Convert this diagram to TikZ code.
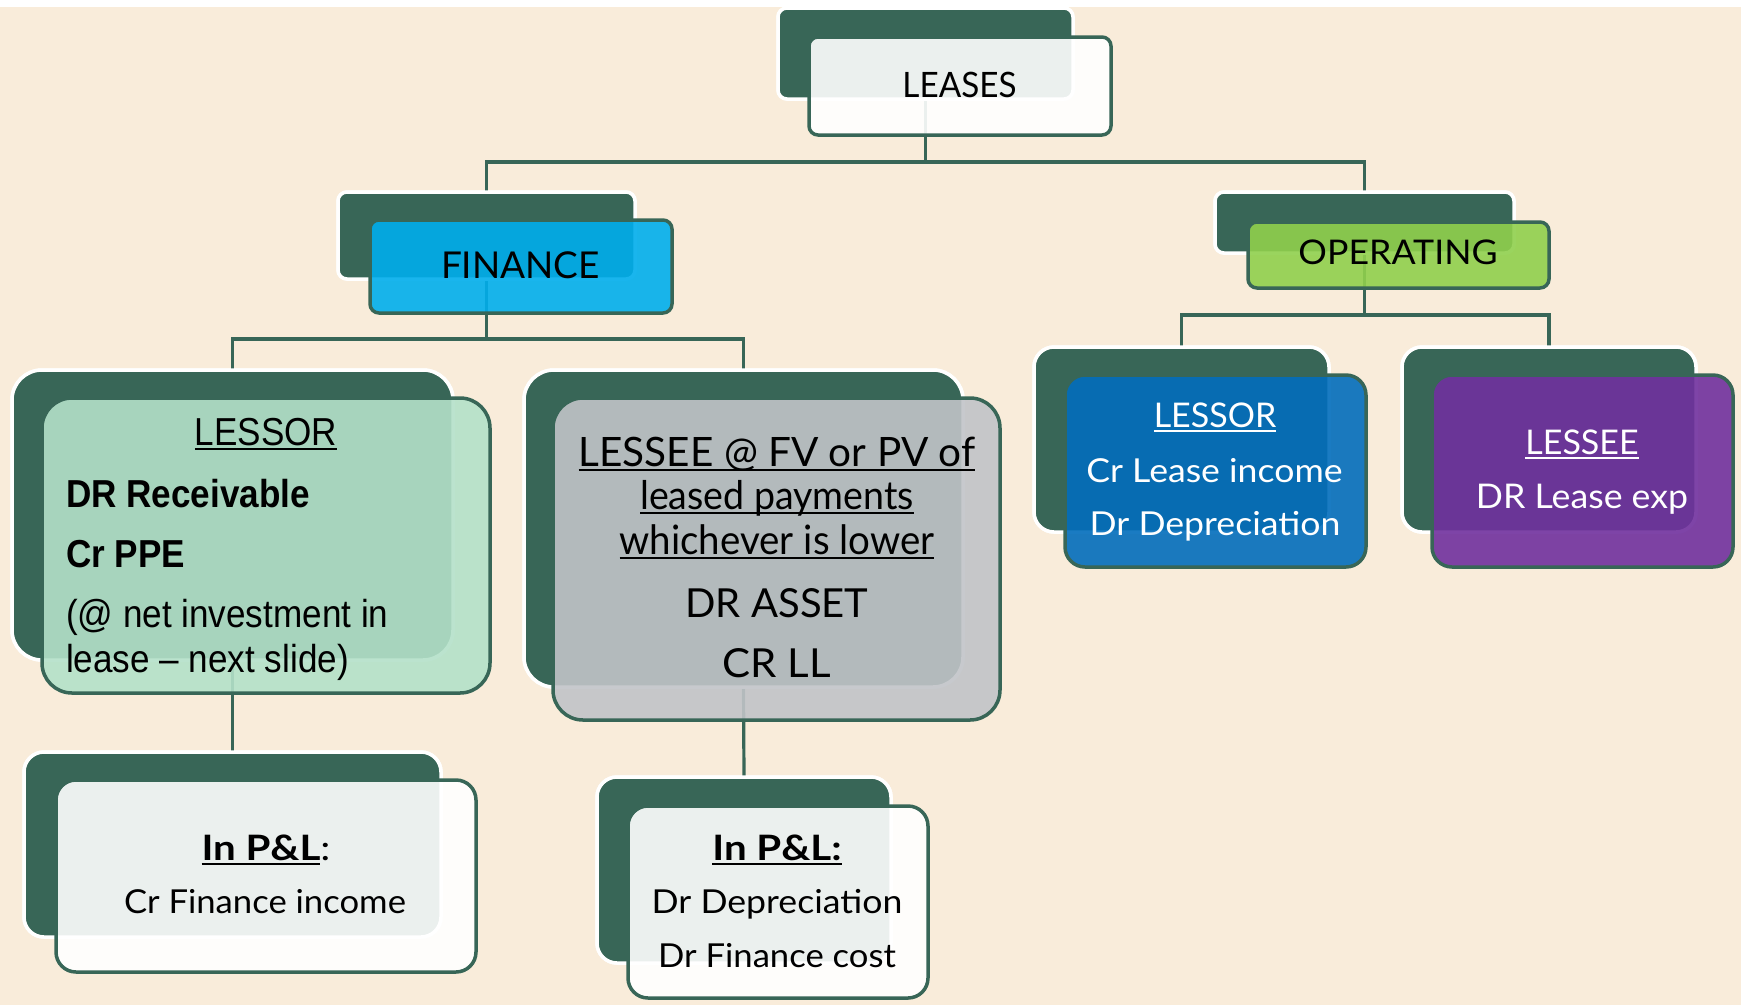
\documentclass[tikz,border=0pt]{standalone}
\usepackage{fontspec}
\setmainfont{Lato}
\newfontfamily\gill{Lato}
\newfontfamily\gillN[FakeStretch=0.95]{Lato}
\newfontfamily\gillW[FakeStretch=1.05]{Lato}
\newfontfamily\gillX[FakeStretch=1.08]{Lato}
\newfontfamily\gillP[FakeStretch=1.15]{Lato}
\newfontfamily\narrow[FakeStretch=0.90]{Liberation Sans}

\definecolor{cream}{HTML}{F9ECDA}
\definecolor{dkgreen}{HTML}{386657}
\definecolor{boxwhite}{HTML}{FFFFFF}
\definecolor{finblue}{HTML}{00AEEC}
\definecolor{mint}{HTML}{B4E1C9}
\definecolor{slate}{HTML}{C1C4C8}
\definecolor{limegreen}{HTML}{90D04D}
\definecolor{opblue}{HTML}{026DBC}
\definecolor{opviolet}{HTML}{70309E}

% underline drawn as a thick rule a little below the baseline
\newcommand\ulbar[1]{\setbox0\hbox{#1}\rlap{\vrule width\wd0 height -2.5pt depth 5pt}\box0}
\newcommand\sz[1]{\fontsize{#1}{#1}\selectfont}

\tikzset{
  back/.style={anchor=north west, inner sep=0, outer sep=0, fill=dkgreen,
    draw=white, line width=3.5pt},
  front/.style={anchor=north west, inner sep=0, outer sep=0, draw=dkgreen,
    line width=3.5pt, fill opacity=0.9, draw opacity=1},
  link/.style={draw=dkgreen, line width=3.2pt},
  txt/.style={inner sep=0, outer sep=0, anchor=base},
  ltxt/.style={inner sep=0, outer sep=0, anchor=base west},
}

\begin{document}
\begin{tikzpicture}[x=1pt, y=-1pt]
  % canvas
  \useasboundingbox (0,0) rectangle (1741,1005);
  \fill[white] (0,0) rectangle (1741,7);
  \fill[cream] (0,7) rectangle (1741,1005);

  % back plates
  \node[back, rounded corners=9, minimum width=295, minimum height=91] (leasesB) at (778,8) {};
  \node[back, rounded corners=9, minimum width=297, minimum height=87] (finB) at (338,192) {};
  \node[back, rounded corners=9, minimum width=299, minimum height=61] (opB) at (1215,192) {};
  \node[back, rounded corners=30, minimum width=441, minimum height=290] (lsrFB) at (12,370) {};
  \node[back, rounded corners=30, minimum width=439, minimum height=317] (lseFB) at (524,370) {};
  \node[back, rounded corners=20, minimum width=295, minimum height=185] (lsrOB) at (1034,347) {};
  \node[back, rounded corners=20, minimum width=294, minimum height=185] (lseOB) at (1402,347) {};
  \node[back, rounded corners=20, minimum width=417, minimum height=185] (plLB) at (24,752) {};
  \node[back, rounded corners=20, minimum width=294, minimum height=186] (plRB) at (597,777) {};

  % bus lines of the tree
  \coordinate (busTop) at (0,162);
  \coordinate (busFin) at (0,339);
  \coordinate (busOp) at (0,315);

  % connectors
  \draw[link] (leasesB.south) -- (leasesB.south |- busTop) -| (finB.north);
  \draw[link] (leasesB.south |- busTop) -| (opB.north);
  \draw[link] (finB.south) -- (finB.south |- busFin) -| (lsrFB.north);
  \draw[link] (finB.south |- busFin) -| (lseFB.north);
  \draw[link] (opB.south) -- (opB.south |- busOp) -| (lsrOB.north);
  \draw[link] (opB.south |- busOp) -| (lseOB.north);
  \draw[link] (lsrFB.south) -- (plLB.north);
  \draw[link] (lseFB.south) -- (plRB.north);

  % redraw plates above connector ends
  \node[back, rounded corners=9, minimum width=295, minimum height=91] at (778,8) {};
  \node[back, rounded corners=9, minimum width=297, minimum height=87] at (338,192) {};
  \node[back, rounded corners=9, minimum width=299, minimum height=61] at (1215,192) {};
  \node[back, rounded corners=30, minimum width=441, minimum height=290] at (12,370) {};
  \node[back, rounded corners=30, minimum width=439, minimum height=317] at (524,370) {};
  \node[back, rounded corners=20, minimum width=295, minimum height=185] at (1034,347) {};
  \node[back, rounded corners=20, minimum width=294, minimum height=185] at (1402,347) {};
  \node[back, rounded corners=20, minimum width=417, minimum height=185] at (24,752) {};
  \node[back, rounded corners=20, minimum width=294, minimum height=186] at (597,777) {};

  % front cards
  \node[front, fill=boxwhite, rounded corners=9, minimum width=302, minimum height=98] (leasesF) at (809,37) {};
  \node[front, fill=finblue, rounded corners=9, minimum width=302, minimum height=93] (finF) at (370,220) {};
  \node[front, fill=limegreen, rounded corners=9, minimum width=301, minimum height=66] (opF) at (1248,222) {};
  \node[front, fill=mint, rounded corners=30, minimum width=448, minimum height=295] (lsrFF) at (42,398) {};
  \node[front, fill=slate, rounded corners=30, minimum width=447, minimum height=322] (lseFF) at (553,398) {};
  \node[front, fill=opblue, rounded corners=20, minimum width=301, minimum height=192] (lsrOF) at (1065,375) {};
  \node[front, fill=opviolet, rounded corners=20, minimum width=301, minimum height=192] (lseOF) at (1432,375) {};
  \node[front, fill=boxwhite, rounded corners=20, minimum width=420, minimum height=192] (plLF) at (56,780) {};
  \node[front, fill=boxwhite, rounded corners=20, minimum width=300, minimum height=192] (plRF) at (628,806) {};

  % labels
  \node[txt, font=\gillN\sz{35}] (tLeases) at (959.5,97) {LEASES};
  \node[txt, font=\gill\sz{37}] (tFin) at (520.5,278) {FINANCE};
  \node[txt, font=\gillW\sz{34}] (tOp) at (1398,264) {OPERATING};

  % finance lessor
  \node[txt, font=\narrow\sz{39}] (tLsrF1) at (266,445) {\ulbar{LESSOR}};
  \node[ltxt, font=\narrow\bfseries\sz{39}] (tLsrF2) at (66,507) {DR Receivable};
  \node[ltxt, font=\narrow\bfseries\sz{39}] (tLsrF3) at (66,567) {Cr PPE};
  \node[ltxt, font=\narrow\sz{39}] (tLsrF4) at (66,627) {(@ net investment in};
  \node[ltxt, font=\narrow\sz{39}] (tLsrF5) at (66,672) {lease – next slide)};

  % finance lessee
  \node[txt, font=\gill\sz{40.5}] (tLseF1) at (777,466) {\ulbar{LESSEE @ FV or PV of}};
  \node[txt, font=\gillN\sz{39.5}] (tLseF2) at (777,509) {\ulbar{leased payments}};
  \node[txt, font=\gillN\sz{40.5}] (tLseF3) at (777,554) {\ulbar{whichever is lower}};
  \node[txt, font=\gill\sz{40}] (tLseF4) at (777,617) {DR ASSET};
  \node[txt, font=\gillW\sz{40}] (tLseF5) at (777,677) {CR LL};

  % operating lessor
  \node[txt, text=white, font=\gill\sz{34}] (tLsrO1) at (1215,427) {\ulbar{LESSOR}};
  \node[txt, text=white, font=\gillX\sz{33}] (tLsrO2) at (1214.5,482) {Cr Lease income};
  \node[txt, text=white, font=\gillX\sz{33}] (tLsrO3) at (1215,535) {Dr Depreciation};

  % operating lessee
  \node[txt, text=white, font=\gill\sz{34}] (tLseO1) at (1582,454) {\ulbar{LESSEE}};
  \node[txt, text=white, font=\gillW\sz{34}] (tLseO2) at (1582,508) {DR Lease exp};

  % profit and loss cards
  \node[txt, font=\gillP\sz{35}] (tPlL1) at (266,860) {\textbf{\ulbar{In P\&L}}:};
  \node[txt, font=\gillW\sz{33}] (tPlL2) at (265,913) {Cr Finance income};
  \node[txt, font=\gillP\sz{35}] (tPlR1) at (777,860) {\textbf{\ulbar{In P\&L:}}};
  \node[txt, font=\gillX\sz{33}] (tPlR2) at (777,913) {Dr Depreciation};
  \node[txt, font=\gillW\sz{33}] (tPlR3) at (777,967) {Dr Finance cost};
\end{tikzpicture}
\end{document}
